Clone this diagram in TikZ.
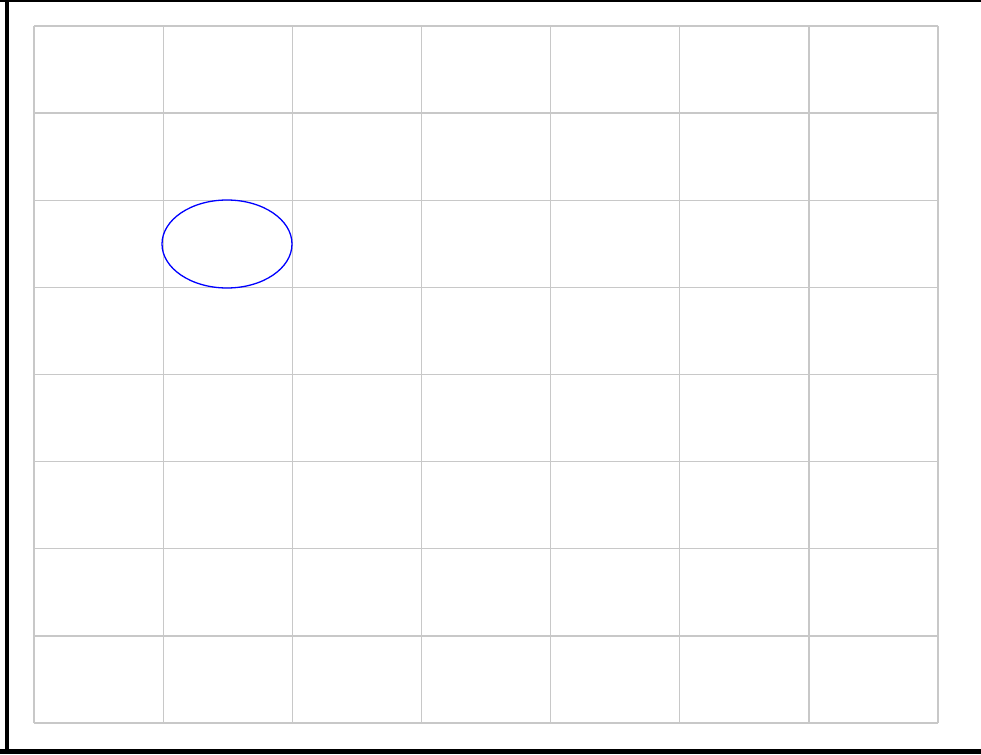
\documentclass[tikz,border=0pt]{standalone}
\begin{document}
\begin{tikzpicture}[x=1pt,y=-1pt,
  gridline/.style={draw={rgb,255:red,200;green,200;blue,200},line width=1.2pt},
  framebar/.style={fill=black},
  ovalshape/.style={draw=blue,line width=1.3pt}]
\useasboundingbox (0,0) rectangle (981,754);
\fill[white] (0,0) rectangle (981,754);
% frame
\fill[framebar] (0,0) rectangle (981,2.5);
\fill[framebar] (5,0) rectangle (8.5,754);
\fill[framebar] (0,748.5) rectangle (981,754);
% grid
\foreach \x in {34,163.1,292.3,421.4,550.6,679.7,808.9,938}
  \draw[gridline] (\x,26) -- (\x,723);
\foreach \y in {26,113.1,200.3,287.4,374.5,461.6,548.8,635.9,723}
  \draw[gridline] (34,\y) -- (938,\y);
% ellipse
\draw[ovalshape] (227,244) ellipse [x radius=65, y radius=44];
\end{tikzpicture}
\end{document}
